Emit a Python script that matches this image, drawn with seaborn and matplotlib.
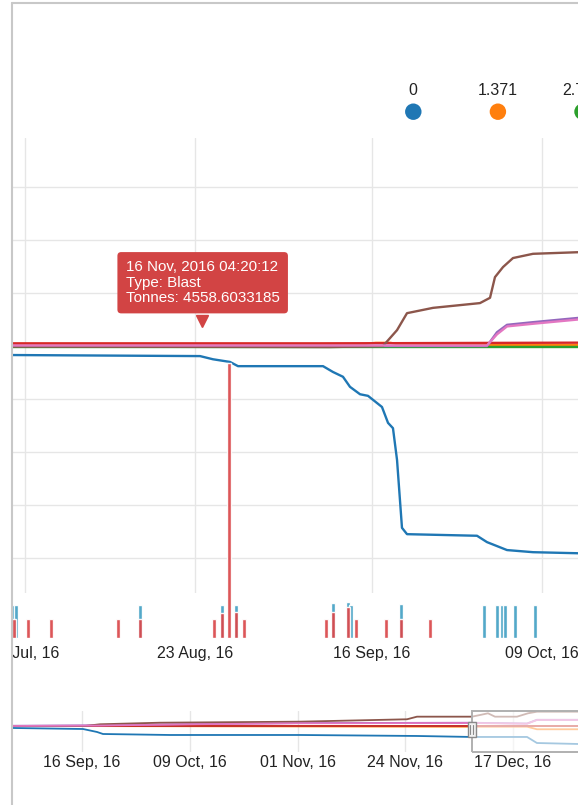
import pandas as pd
import matplotlib
matplotlib.use("Agg")
import matplotlib.pyplot as plt
import matplotlib.dates as mdates
from matplotlib.patches import Rectangle
from matplotlib.lines import Line2D
import seaborn as sns

# ---- data ----
# main chart: x in days after 31 Jul 2016, y in thousand tonnes
series_names = ["0", "1.371", "2.742", "4.113", "5.484", "6.855", "8.226"]

blue_days = [-1.8, 23.7, 25.45, 27.75, 28.84, 30.46, 40.35, 41.7, 43.05, 44.0, 45.36, 46.44,
             48.33, 49.15, 49.82, 50.37, 51.04, 51.72, 61.2, 62.55, 65.26, 68.78, 74.87, 92]
blue_vals = [-0.17, -0.19, -0.25, -0.30, -0.38, -0.38, -0.38, -0.49, -0.58, -0.77, -0.91, -0.94,
             -1.15, -1.45, -1.55, -2.15, -3.43, -3.55, -3.58, -3.70, -3.85, -3.89, -3.91, -3.93]
orange_days = [-1.8, 46.0, 47.5, 49.5, 51.0, 92]
orange_vals = [0.04, 0.04, 0.06, 0.06, 0.02, 0.02]
green_days = [-1.8, 92]
green_vals = [-0.02, -0.02]
red_days = [-1.8, 40.0, 92]
red_vals = [0.05, 0.05, 0.07]
purple_days = [-1.8, 62.55, 63.9, 65.26, 68.78, 74.87, 92]
purple_vals = [0.0, 0.0, 0.26, 0.40, 0.45, 0.53, 0.56]
brown_days = [-1.8, 41.3, 48.47, 50.37, 51.72, 55.24, 61.6, 62.96, 63.63, 64.72, 66.07, 68.78, 74.87, 92]
brown_vals = [-0.01, -0.02, 0.0, 0.30, 0.62, 0.72, 0.81, 0.91, 1.30, 1.49, 1.66, 1.74, 1.77, 1.80]
pink_days = [-1.8, 62.55, 63.9, 65.26, 68.78, 74.87, 92]
pink_vals = [0.01, 0.01, 0.22, 0.37, 0.42, 0.50, 0.53]

# event strip: days after 31 Jul 2016, tonnes
blast_days = [-1.49, 0.41, 3.52, 12.59, 15.57, 25.59, 26.67, 27.62, 28.57, 29.65,
              40.75, 41.70, 43.73, 44.81, 48.88, 50.91, 54.83]
blast_tonnes = [315, 315, 315, 315, 315, 315, 415, 4558.6, 425, 315,
                315, 436, 520, 315, 315, 315, 315]
other_days = [-1.49, -1.22, 15.57, 26.67, 28.57, 41.70, 43.73, 44.14, 50.91,
              62.14, 63.9, 64.58, 64.99, 66.34, 69.05]
other_tonnes = [547, 547, 547, 547, 547, 585, 602, 547, 564,
                547, 547, 547, 547, 547, 547]

# navigator: x in days after 16 Sep 2016
nav_blue_days = [-15, 0.21, 3.2, 4.48, 18.78, 46.53, 71.5, 83.24, 95.0, 97.1, 105.9, 135]
nav_blue_vals = [-0.44, -0.67, -1.33, -1.78, -2.0, -2.0, -2.22, -2.44, -2.44, -3.78, -4.0, -4.0]
nav_orange_days = [-15, 83.0, 95.0, 97.1, 135]
nav_orange_vals = [0.0, -0.15, -0.15, -0.73, -0.73]
nav_green_days = [-15, 135]
nav_green_vals = [-0.02, -0.02]
nav_red_days = [-15, 135]
nav_red_vals = [0.05, 0.05]
nav_purple_days = [-15, 3.84, 25.2, 46.5, 83.24, 95.0, 97.1, 135]
nav_purple_vals = [0.05, 0.15, 0.45, 0.65, 0.72, 0.55, 1.38, 1.38]
nav_brown_days = [-15, 0.64, 3.84, 16.65, 46.53, 69.37, 71.5, 83.24, 84.95, 86.66, 88.15,
                  92.85, 95.2, 97.12, 105.87, 135]
nav_brown_vals = [0.0, 0.0, 0.38, 0.73, 0.96, 1.49, 2.07, 2.07, 2.44, 2.82, 2.07,
                  2.07, 2.82, 3.18, 3.18, 3.18]
nav_pink_days = [-15, 3.84, 25.2, 46.5, 83.24, 95.0, 97.1, 135]
nav_pink_vals = [0.0, 0.1, 0.4, 0.6, 0.67, 0.5, 1.33, 1.33]

main_ticks = ["2016-07-31", "2016-08-23", "2016-09-16", "2016-10-09"]
nav_ticks = ["2016-09-16", "2016-10-09", "2016-11-01", "2016-11-24", "2016-12-17"]
nav_window_start = 83.24  # days after 16 Sep
tooltip_lines = ["16 Nov, 2016 04:20:12", "Type: Blast", "Tonnes: 4558.6033185"]

# ---- figure ----
W, H = 578, 805
MAIN0 = mdates.date2num(pd.Timestamp("2016-07-31"))
NAV0 = mdates.date2num(pd.Timestamp("2016-09-16"))

sns.set_theme(style="white")
plt.rcParams["font.family"] = ["Liberation Sans", "DejaVu Sans"]
TXT = "#222222"
palette = dict(zip(series_names, sns.color_palette("tab10", 7)))


def px_axes(fig, x0, x1, y0, y1):
    return fig.add_axes([x0 / W, 1 - y1 / H, (x1 - x0) / W, (y1 - y0) / H])


def long_frame(start, days_list, vals_list):
    rows = []
    for name, days, vals in zip(series_names, days_list, vals_list):
        for d, v in zip(days, vals):
            rows.append((name, start + d, v))
    return pd.DataFrame(rows, columns=["series", "x", "value"])


main_df = long_frame(MAIN0,
                     [blue_days, orange_days, green_days, red_days, purple_days, brown_days, pink_days],
                     [blue_vals, orange_vals, green_vals, red_vals, purple_vals, brown_vals, pink_vals])
nav_df = long_frame(NAV0,
                    [nav_blue_days, nav_orange_days, nav_green_days, nav_red_days,
                     nav_purple_days, nav_brown_days, nav_pink_days],
                    [nav_blue_vals, nav_orange_vals, nav_green_vals, nav_red_vals,
                     nav_purple_vals, nav_brown_vals, nav_pink_vals])

fig = plt.figure(figsize=(W / 100, H / 100), dpi=100)
fmt = mdates.DateFormatter("%d %b, %y")

# main line chart
ax = px_axes(fig, 12, 700, 138, 593)
sns.lineplot(data=main_df, x="x", y="value", hue="series", hue_order=series_names,
             palette=palette, estimator=None, legend=False, linewidth=1.7, ax=ax)
ax.set_xlim(MAIN0 + (12 - 25) / 7.386, MAIN0 + (700 - 25) / 7.386)
ax.set_ylim(-4.66, 3.925)
ax.set_xticks([mdates.date2num(pd.Timestamp(t)) for t in main_ticks])
ax.set_yticks(range(-4, 4))
ax.grid(True, color="#e6e6e6", linewidth=1)
ax.set_axisbelow(True)
ax.tick_params(labelbottom=False, labelleft=False, length=0)
ax.set_xlabel("")
ax.set_ylabel("")
for s in ax.spines.values():
    s.set_visible(False)

tip_x = MAIN0 + 23.92
ax.annotate("\n".join(tooltip_lines), xy=(tip_x, 0.364), xytext=(1, 44),
            textcoords="offset pixels", ha="center", va="center", multialignment="left",
            color="white", fontsize=10.9, linespacing=1.12, zorder=10, annotation_clip=False,
            bbox=dict(boxstyle="round,pad=0.55,rounding_size=0.25", fc="#d24444", ec="none"))
ax.plot([tip_x], [0.47], marker="v", ms=8.0, color="#d24444", zorder=10, clip_on=False)

# event strip
ax_ev = px_axes(fig, 12, 700, 138, 638)
ax_ev.patch.set_alpha(0)
ax_ev.bar([MAIN0 + d for d in other_days], other_tonnes, width=0.46, color="#4aa3c6", alpha=0.95)
ax_ev.bar([MAIN0 + d for d in blast_days], blast_tonnes, width=0.46, color="#d9474a", alpha=0.92)
ax_ev.set_xlim(ax.get_xlim())
ax_ev.set_ylim(0, 8290)
ax_ev.set_xticks([mdates.date2num(pd.Timestamp(t)) for t in main_ticks])
ax_ev.xaxis.set_major_formatter(fmt)
ax_ev.set_yticks([])
ax_ev.tick_params(axis="x", length=0, pad=6, labelsize=11.5, labelcolor=TXT)
for s in ax_ev.spines.values():
    s.set_visible(False)

# legend row (labels above markers)
ax_leg = px_axes(fig, 371, 371 + 84.6 * 7, 75, 125)
ax_leg.scatter(range(len(series_names)), [0.266] * len(series_names), s=140,
               c=[palette[n] for n in series_names], linewidths=0)
for i, name in enumerate(series_names):
    ax_leg.text(i, 0.6, name, ha="center", va="baseline", fontsize=11.5, color=TXT)
ax_leg.set_xlim(-0.5, len(series_names) - 0.5)
ax_leg.set_ylim(0, 1)
ax_leg.axis("off")

# navigator
ax_nav = px_axes(fig, 12, 700, 711, 752)
sns.lineplot(data=nav_df, x="x", y="value", hue="series", hue_order=series_names,
             palette=palette, estimator=None, legend=False, linewidth=1.3, ax=ax_nav)
ax_nav.set_xlim(NAV0 + (12 - 82) / 4.685, NAV0 + (700 - 82) / 4.685)
ax_nav.set_ylim(-5.78, 3.33)
ax_nav.set_xticks([mdates.date2num(pd.Timestamp(t)) for t in nav_ticks])
ax_nav.xaxis.set_major_formatter(fmt)
ax_nav.set_yticks([])
ax_nav.grid(True, axis="x", color="#e6e6e6", linewidth=1)
ax_nav.set_axisbelow(True)
ax_nav.tick_params(axis="x", length=0, pad=2, labelsize=11.5, labelcolor=TXT)
ax_nav.set_xlabel("")
ax_nav.set_ylabel("")
for s in ax_nav.spines.values():
    s.set_visible(False)

wx = (NAV0 + nav_window_start - ax_nav.get_xlim()[0]) / (ax_nav.get_xlim()[1] - ax_nav.get_xlim()[0])
ax_nav.add_patch(Rectangle((wx, 0), 0.6, 1, transform=ax_nav.transAxes, clip_on=False,
                           fc="white", alpha=0.6, ec="none", zorder=5))
ax_nav.add_patch(Rectangle((wx, 0), 0.6, 1, transform=ax_nav.transAxes, clip_on=False,
                           fc="none", ec="#b0b0b0", lw=1.4, zorder=6))
hw, hh = 8 / 688, 15 / 41
ax_nav.add_patch(Rectangle((wx - hw / 2, 0.56 - hh / 2), hw, hh, transform=ax_nav.transAxes,
                           clip_on=False, fc="#f2f2f2", ec="#8a8a8a", lw=1, zorder=7))
for dx in (-1.5 / 688, 1.5 / 688):
    ax_nav.add_line(Line2D([wx + dx, wx + dx], [0.45, 0.67], transform=ax_nav.transAxes,
                           color="#8a8a8a", lw=0.8, zorder=8, clip_on=False))

# page frame: white margin left of the container and its grey border
fig.add_artist(Rectangle((0, 0), 12 / W, 1, transform=fig.transFigure, fc="white", ec="none", zorder=20))
fig.add_artist(Line2D([12.5 / W, 12.5 / W], [0, 1 - 3 / H], transform=fig.transFigure,
                      color="#c8c8c8", lw=1.5, zorder=21))
fig.add_artist(Line2D([12.5 / W, 1], [1 - 3.5 / H, 1 - 3.5 / H], transform=fig.transFigure,
                      color="#c8c8c8", lw=1.5, zorder=21))

fig.savefig("out.png", dpi=100, facecolor="white")
